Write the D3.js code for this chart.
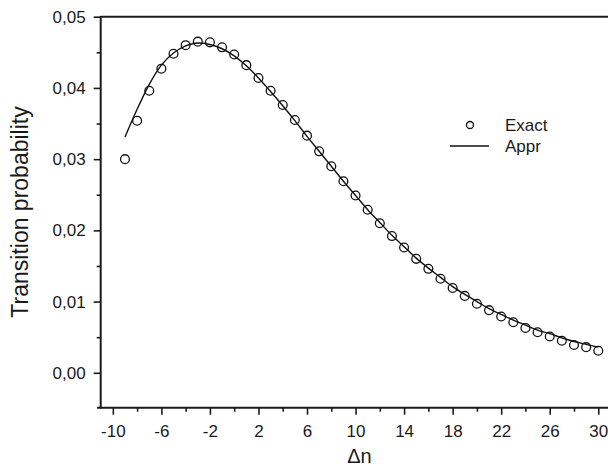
<!DOCTYPE html>
<html>
<head>
<meta charset="utf-8">
<script src="https://cdn.jsdelivr.net/npm/d3@7"></script>
<style>
  html, body { margin: 0; padding: 0; background: #fff; }
  svg { display: block; }
  text { font-family: "Liberation Sans", Arial, Helvetica, sans-serif; fill: #1a1a1a; }
</style>
</head>
<body>
<svg id="chart" width="608" height="470"></svg>
<script>
// ---- data ----
const deltaN = [-9,-8,-7,-6,-5,-4,-3,-2,-1,0,1,2,3,4,5,6,7,8,9,10,11,12,13,14,15,16,17,18,19,20,21,22,23,24,25,26,27,28,29,30];
const exact = [0.0300,0.0354,0.0396,0.0427,0.0448,0.0460,0.0465,0.0464,0.0457,0.0447,0.0432,0.0414,0.0396,0.0376,0.0355,0.0333,0.0311,0.0290,0.0269,
               0.0249,0.0229,0.0210,0.0192,0.0176,0.0160,0.0146,0.0132,0.0119,0.0108,0.0097,0.0088,0.0079,0.0071,0.0063,0.0057,0.0051,0.0045,0.0039,0.0036,0.0031];
const appr = [0.0331,0.0370,0.0405,0.0432,0.0449,0.0459,0.0463,0.0461,0.0455,0.0445,0.0431,0.0414,0.0395,0.0375,0.0354,0.0332,0.0311,0.0290,0.0269,
              0.0249,0.0229,0.0211,0.0193,0.0177,0.0161,0.0147,0.0134,0.0121,0.0110,0.0100,0.0090,0.0082,0.0074,0.0067,0.0060,0.0055,0.0049,0.0044,0.0040,0.0036];
const xMajorTicks = [-10,-6,-2,2,6,10,14,18,22,26,30];
const xMinorTicks = [-8,-4,0,4,8,12,16,20,24,28];
const yMajorTicks = [0,0.01,0.02,0.03,0.04,0.05];
const yMinorTicks = [0.005,0.015,0.025,0.035,0.045];
const seriesNames = ["Exact","Appr"];
const xTitle = "Δn";
const yTitle = "Transition probability";

// ---- scales ----
const svg = d3.select("#chart");
const pLeft = 100.7, pRight = 610.4, pTop = 16.7, pBottom = 407.7;
const x = d3.scaleLinear().domain([-11, 31]).range([pLeft, pRight]);
const y = d3.scaleLinear().domain([-0.0049, 0.05]).range([pBottom, pTop]);

const loc = d3.formatLocale({decimal: ",", thousands: ".", grouping: [3], currency: ["", ""]});
const fmtY = loc.format(".2f");
const fmtX = d => (d < 0 ? "-" : "") + Math.abs(d);

const ink = "#1a1a1a";

// ---- axes ----
const gx = svg.append("g").attr("transform", `translate(0,${pBottom})`)
  .call(d3.axisBottom(x).tickValues(xMajorTicks).tickSize(7).tickPadding(10).tickFormat(fmtX));
const gxm = svg.append("g").attr("transform", `translate(0,${pBottom})`)
  .call(d3.axisBottom(x).tickValues(xMinorTicks).tickSize(4).tickFormat(""));
const gy = svg.append("g").attr("transform", `translate(${pLeft},0)`)
  .call(d3.axisLeft(y).tickValues(yMajorTicks).tickSize(7).tickPadding(8).tickFormat(fmtY));
const gym = svg.append("g").attr("transform", `translate(${pLeft},0)`)
  .call(d3.axisLeft(y).tickValues(yMinorTicks).tickSize(4).tickFormat(""));

[gx, gxm, gy, gym].forEach(g => {
  g.select(".domain").remove();
  g.selectAll(".tick line").attr("stroke", ink).attr("stroke-width", 1.6);
  g.selectAll(".tick text").attr("font-size", 17).attr("fill", ink)
    .attr("font-family", '"Liberation Sans", Arial, sans-serif');
});

// frame lines
svg.append("line").attr("x1", pLeft).attr("x2", pLeft).attr("y1", pTop - 0.8).attr("y2", pBottom + 0.8)
  .attr("stroke", ink).attr("stroke-width", 2);
svg.append("line").attr("x1", 97).attr("x2", 608).attr("y1", pBottom).attr("y2", pBottom)
  .attr("stroke", ink).attr("stroke-width", 2);
svg.append("line").attr("x1", pLeft).attr("x2", 608).attr("y1", pTop).attr("y2", pTop)
  .attr("stroke", ink).attr("stroke-width", 2);

// ---- marks ----
const lineData = deltaN.map((n, i) => [n, appr[i]]);
svg.append("path")
  .datum(lineData)
  .attr("fill", "none")
  .attr("stroke", "#111")
  .attr("stroke-width", 1.4)
  .attr("d", d3.line().x(d => x(d[0])).y(d => y(d[1])).curve(d3.curveMonotoneX));

svg.append("g").selectAll("circle")
  .data(deltaN.map((n, i) => [n, exact[i]]))
  .join("circle")
  .attr("cx", d => x(d[0]))
  .attr("cy", d => y(d[1]))
  .attr("r", 4.4)
  .attr("fill", "none")
  .attr("stroke", "#111")
  .attr("stroke-width", 1.3);

// ---- legend ----
const lg = svg.append("g");
lg.append("circle").attr("cx", 470).attr("cy", 125).attr("r", 3.5)
  .attr("fill", "none").attr("stroke", "#111").attr("stroke-width", 1.3);
lg.append("text").attr("x", 505).attr("y", 131).attr("font-size", 17).text(seriesNames[0]);
lg.append("line").attr("x1", 450).attr("x2", 489).attr("y1", 146).attr("y2", 146)
  .attr("stroke", "#111").attr("stroke-width", 1.4);
lg.append("text").attr("x", 505).attr("y", 152).attr("font-size", 17).text(seriesNames[1]);

// ---- titles ----
svg.append("text").attr("x", 359.5).attr("y", 463).attr("text-anchor", "middle")
  .attr("font-size", 20).text(xTitle);
svg.append("text").attr("transform", "translate(28,212) rotate(-90)")
  .attr("text-anchor", "middle").attr("font-size", 23).text(yTitle);
</script>
</body>
</html>
